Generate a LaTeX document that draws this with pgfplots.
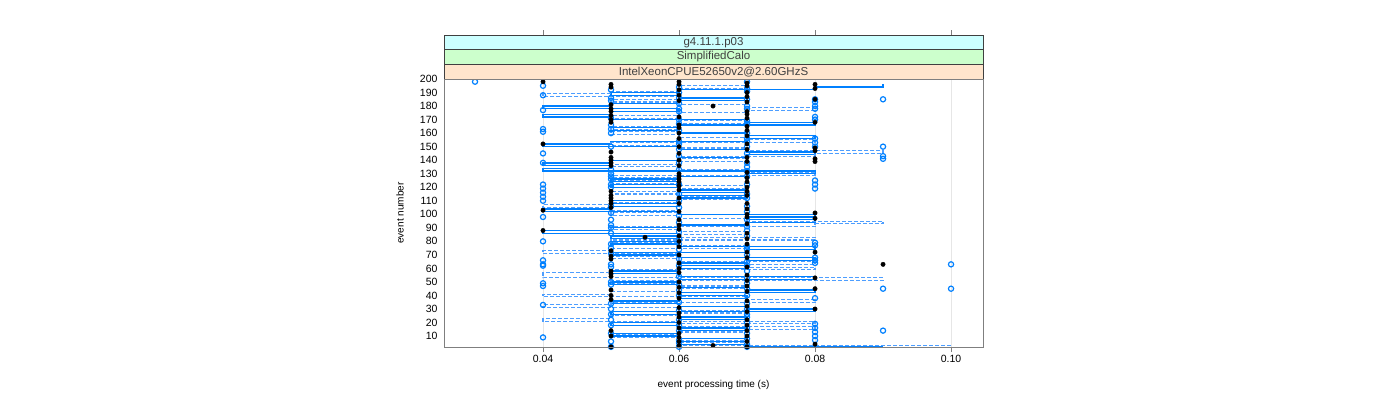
\documentclass[border=0pt]{standalone}
\usepackage{fontspec}
\setmainfont{Liberation Sans}
\usepackage{pgfplots}
\pgfplotsset{compat=1.18}
\definecolor{lblue}{HTML}{0080FF}
\definecolor{dblue}{HTML}{4D9EFF}
\definecolor{stripA}{HTML}{CCFFFF}
\definecolor{stripB}{HTML}{CCFFCC}
\definecolor{stripC}{HTML}{FFE5CC}
\definecolor{gridc}{HTML}{E6E6E6}
\definecolor{frame}{HTML}{7F7F7F}

\begin{document}
\begin{tikzpicture}
\useasboundingbox (0pt,0pt) rectangle (1400pt,400pt);
\begin{axis}[name=ax, at={(444pt,53pt)}, anchor=south west,
    width=539pt, height=268pt, scale only axis, clip=false,
    xmin=0.02544, xmax=0.1047, ymin=1.9, ymax=200,
    xtick={0.04,0.06,0.08,0.10}, ytick={10,20,...,200},
    xtick pos=bottom, ytick pos=left, tick align=outside,
    major tick length=5pt, ytick style={draw=none},
    tick style={frame, line width=0.6pt},
    axis line style={frame, line width=0.8pt},
    xmajorgrids, grid style={gridc, line width=0.8pt},
    /pgf/number format/assume math mode=true,
    xticklabel style={font=\fontsize{10.5}{12}\selectfont,
      /pgf/number format/.cd, fixed, fixed zerofill, precision=2},
    yticklabel style={font=\fontsize{10.5}{12}\selectfont, xshift=2pt},
    xlabel={event processing time (s)}, ylabel={event number},
    label style={font=\fontsize{11.5}{13}\selectfont},
    every axis x label/.style={at={(axis description cs:0.5,-0.142)}, anchor=center},
    every axis y label/.style={at={(axis description cs:-0.0816,0.5)}, rotate=90, anchor=center},
  ]
% solid step series
\addplot[const plot mark left, lblue, line width=1.3pt] coordinates {
(0.09,2) (0.07,4) (0.06,6) (0.07,8) (0.06,10) (0.05,12) (0.06,14) (0.07,16) (0.06,18) (0.05,20)
(0.06,22) (0.07,24) (0.06,26) (0.05,28) (0.08,30) (0.07,32) (0.06,34) (0.05,36) (0.06,38) (0.07,40)
(0.06,42) (0.08,44) (0.07,46) (0.06,48) (0.05,50) (0.06,52) (0.08,54) (0.06,56) (0.05,58) (0.06,60)
(0.07,62) (0.06,64) (0.07,66) (0.08,68) (0.06,70) (0.05,72) (0.07,74) (0.08,76) (0.06,78) (0.05,80)
(0.06,82) (0.05,84) (0.06,86) (0.04,88) (0.05,90) (0.06,92) (0.07,94) (0.08,96) (0.07,98) (0.08,100)
(0.06,102) (0.04,104) (0.05,106) (0.06,108) (0.05,110) (0.06,112) (0.07,114) (0.06,116) (0.07,118) (0.06,120)
(0.05,122) (0.06,124) (0.05,126) (0.06,128) (0.07,130) (0.08,132) (0.04,134) (0.05,136) (0.04,138) (0.05,140)
(0.06,142) (0.07,144) (0.08,146) (0.07,148) (0.06,150) (0.04,152) (0.05,154) (0.07,156) (0.08,158) (0.07,160)
(0.06,162) (0.05,164) (0.06,166) (0.08,168) (0.07,170) (0.05,172) (0.04,174) (0.05,176) (0.06,178) (0.04,180)
(0.05,182) (0.06,184) (0.07,186) (0.06,188) (0.05,190) (0.06,192) (0.08,194) (0.09,196)
};
% dashed step series
\addplot[const plot mark left, dblue, line width=1.1pt, dash pattern=on 4pt off 2pt] coordinates {
(0.10,3) (0.06,5) (0.07,7) (0.06,9) (0.05,11) (0.06,13) (0.07,15) (0.08,17) (0.06,19) (0.08,21)
(0.04,23) (0.05,25) (0.06,27) (0.07,29) (0.06,31) (0.04,33) (0.05,35) (0.08,37) (0.07,39) (0.04,41)
(0.05,43) (0.06,45) (0.07,47) (0.06,49) (0.05,51) (0.09,53) (0.04,55) (0.04,57) (0.05,59) (0.08,61)
(0.07,63) (0.08,65) (0.06,67) (0.05,69) (0.06,71) (0.04,73) (0.05,75) (0.07,77) (0.06,79) (0.05,81)
(0.08,83) (0.06,85) (0.07,87) (0.06,89) (0.05,91) (0.08,93) (0.09,95) (0.07,97) (0.06,99) (0.05,101)
(0.06,103) (0.05,105) (0.04,107) (0.05,109) (0.06,111) (0.07,113) (0.06,115) (0.05,117) (0.06,119) (0.07,121)
(0.06,123) (0.05,125) (0.06,127) (0.05,129) (0.08,131) (0.07,133) (0.06,135) (0.05,137) (0.06,139) (0.07,141)
(0.06,143) (0.08,145) (0.09,147) (0.07,149) (0.06,151) (0.05,153) (0.08,155) (0.07,157) (0.06,159) (0.05,161)
(0.06,163) (0.05,165) (0.06,167) (0.07,169) (0.06,171) (0.05,173) (0.06,175) (0.07,177) (0.08,179) (0.07,181)
(0.06,183) (0.05,185) (0.06,187) (0.04,189) (0.05,191) (0.06,193) (0.07,195) (0.06,197)
};
% open circles
\addplot[only marks, mark=o, mark size=2.6pt, lblue, mark options={line width=1.2pt}] coordinates {
(0.03,198)
(0.04,195) (0.04,188) (0.04,177) (0.04,163) (0.04,161) (0.04,145) (0.04,138) (0.04,122) (0.04,119) (0.04,116)
(0.04,113) (0.04,110) (0.04,98) (0.04,80) (0.04,66) (0.04,63) (0.04,62) (0.04,49) (0.04,47) (0.04,33) (0.04,9)
(0.05,192) (0.05,186) (0.05,184) (0.05,171) (0.05,166) (0.05,163) (0.05,160) (0.05,150) (0.05,133) (0.05,130)
(0.05,128) (0.05,126) (0.05,122) (0.05,120) (0.05,106) (0.05,101) (0.05,96) (0.05,92) (0.05,90) (0.05,86)
(0.05,78) (0.05,75) (0.05,71) (0.05,63) (0.05,61) (0.05,50) (0.05,48) (0.05,34) (0.05,30) (0.05,26)
(0.05,22) (0.05,18) (0.05,12) (0.05,6) (0.05,2)
(0.06,194) (0.06,190) (0.06,186) (0.06,182) (0.06,178) (0.06,176) (0.06,170) (0.06,167) (0.06,162) (0.06,154)
(0.06,152) (0.06,148) (0.06,143) (0.06,138) (0.06,133) (0.06,122) (0.06,115) (0.06,110) (0.06,105) (0.06,99)
(0.06,94) (0.06,87) (0.06,82) (0.06,78) (0.06,74) (0.06,67) (0.06,62) (0.06,54) (0.06,48) (0.06,44)
(0.06,40) (0.06,35) (0.06,29) (0.06,22) (0.06,18) (0.06,14) (0.06,7) (0.06,5) (0.06,2)
(0.07,198) (0.07,193) (0.07,191) (0.07,185) (0.07,180) (0.07,178) (0.07,169) (0.07,167) (0.07,160) (0.07,156)
(0.07,154) (0.07,150) (0.07,145) (0.07,138) (0.07,135) (0.07,132) (0.07,128) (0.07,122) (0.07,115) (0.07,112)
(0.07,106) (0.07,102) (0.07,96) (0.07,91) (0.07,88) (0.07,84) (0.07,76) (0.07,74) (0.07,70) (0.07,65)
(0.07,62) (0.07,58) (0.07,53) (0.07,49) (0.07,45) (0.07,40) (0.07,34) (0.07,30) (0.07,26) (0.07,24)
(0.07,20) (0.07,16) (0.07,12) (0.07,8) (0.07,4) (0.07,2)
(0.08,185) (0.08,183) (0.08,180) (0.08,178) (0.08,172) (0.08,170) (0.08,156) (0.08,153) (0.08,150) (0.08,125)
(0.08,122) (0.08,119) (0.08,79) (0.08,77) (0.08,68) (0.08,66) (0.08,64) (0.08,38) (0.08,19) (0.08,16)
(0.08,13) (0.08,10) (0.08,7)
(0.09,185) (0.09,150) (0.09,143) (0.09,141) (0.09,45) (0.09,14)
(0.10,63) (0.10,45)
};
% filled dots
\addplot[only marks, mark=*, mark size=2.2pt, black] coordinates {
(0.04,198) (0.04,152) (0.04,103) (0.04,88) (0.055,83) (0.065,180) (0.065,3) (0.09,63)
(0.05,196) (0.05,194) (0.05,181) (0.05,178) (0.05,176) (0.05,173) (0.05,170) (0.05,168) (0.05,146) (0.05,142)
(0.05,140) (0.05,138) (0.05,136) (0.05,117) (0.05,114) (0.05,112) (0.05,110) (0.05,108) (0.05,105) (0.05,73)
(0.05,69) (0.05,67) (0.05,58) (0.05,56) (0.05,54) (0.05,44) (0.05,40) (0.05,37) (0.05,14) (0.05,10) (0.05,2)
(0.06,198) (0.06,196) (0.06,192) (0.06,188) (0.06,184) (0.06,172) (0.06,166) (0.06,164) (0.06,160) (0.06,156)
(0.06,150) (0.06,145) (0.06,140) (0.06,136) (0.06,130) (0.06,128) (0.06,126) (0.06,124) (0.06,121) (0.06,118)
(0.06,112) (0.06,108) (0.06,102) (0.06,96) (0.06,92) (0.06,89) (0.06,84) (0.06,80) (0.06,76) (0.06,70)
(0.06,64) (0.06,60) (0.06,57) (0.06,50) (0.06,46) (0.06,42) (0.06,38) (0.06,31) (0.06,27) (0.06,24)
(0.06,20) (0.06,16) (0.06,12) (0.06,9) (0.06,6) (0.06,3)
(0.07,197) (0.07,195) (0.07,190) (0.07,187) (0.07,183) (0.07,176) (0.07,174) (0.07,171) (0.07,165) (0.07,162)
(0.07,158) (0.07,152) (0.07,148) (0.07,142) (0.07,139) (0.07,131) (0.07,127) (0.07,124) (0.07,120) (0.07,117)
(0.07,114) (0.07,108) (0.07,104) (0.07,100) (0.07,98) (0.07,93) (0.07,86) (0.07,82) (0.07,78) (0.07,72)
(0.07,68) (0.07,61) (0.07,55) (0.07,51) (0.07,47) (0.07,43) (0.07,36) (0.07,32) (0.07,28) (0.07,22)
(0.07,18) (0.07,14) (0.07,10) (0.07,6) (0.07,2)
(0.08,196) (0.08,193) (0.08,185) (0.08,168) (0.08,149) (0.08,147) (0.08,141) (0.08,139) (0.08,101) (0.08,97)
(0.08,72) (0.08,53) (0.08,45) (0.08,30) (0.08,4)
};
% anchors for the ticks above the strips
\coordinate (t1) at (axis cs:0.04,200);
\coordinate (t2) at (axis cs:0.06,200);
\coordinate (t3) at (axis cs:0.08,200);
\coordinate (t4) at (axis cs:0.10,200);
\end{axis}
% strips
\draw[black!75, line width=0.6pt, fill=stripC] (ax.north west) rectangle ([yshift=14.7pt]ax.north east)
  node[midway, font=\fontsize{11.5}{13}\selectfont] {IntelXeonCPUE52650v2@2.60GHzS};
\draw[black!75, line width=0.6pt, fill=stripB] ([yshift=14.7pt]ax.north west) rectangle ([yshift=29.4pt]ax.north east)
  node[midway, font=\fontsize{11.5}{13}\selectfont] {SimplifiedCalo};
\draw[black!75, line width=0.6pt, fill=stripA] ([yshift=29.4pt]ax.north west) rectangle ([yshift=44pt]ax.north east)
  node[midway, font=\fontsize{11.5}{13}\selectfont] {g4.11.1.p03};
\foreach \t in {t1,t2,t3,t4} {
  \draw[frame, line width=0.6pt] ([yshift=44pt]\t) -- ([yshift=49pt]\t);
}
\draw[frame, line width=0.8pt] (ax.south west) rectangle (ax.north east);
\end{tikzpicture}
\end{document}
